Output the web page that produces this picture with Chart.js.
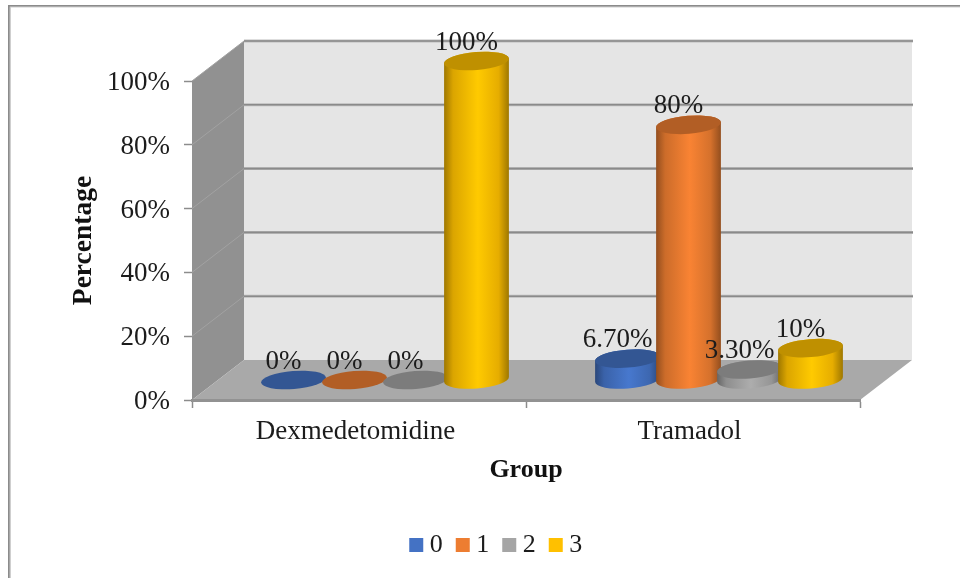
<!DOCTYPE html>
<html>
<head>
<meta charset="utf-8">
<style>
  html, body { margin: 0; padding: 0; background: #ffffff; }
  #wrap { position: relative; width: 960px; height: 578px; }
</style>
<script src="https://cdn.jsdelivr.net/npm/chart.js@4/dist/chart.umd.min.js"></script>
</head>
<body>
<div id="wrap"><canvas id="chart" width="960" height="578"></canvas></div>
<script>
// Score share per group, in percent
const categories = ['Dexmedetomidine', 'Tramadol'];
const score0 = [0, 6.7];
const score1 = [0, 80];
const score2 = [0, 3.3];
const score3 = [100, 10];
const seriesNames = ['0', '1', '2', '3'];
const seriesColors = ['#4472C4', '#ED7D31', '#A5A5A5', '#FFC000'];
const yTicks = [0, 20, 40, 60, 80, 100];

const FONT = '"Liberation Serif", "Times New Roman", serif';
const TEXT = '#1c1c1c';
const DEPTH_X = 52;   // shift from the front plane to the back wall
const DEPTH_Y = -40;
const LEG_SHIFT_X = 69;

function shade(hex, k) {
  const n = parseInt(hex.slice(1), 16);
  const c = [n >> 16, (n >> 8) & 255, n & 255].map(v => Math.round(Math.min(255, v * k)));
  return `rgb(${c[0]},${c[1]},${c[2]})`;
}

// Bar element drawn as a cylinder standing halfway into the chart's depth
class CylinderElement extends Chart.BarElement {
  static id = 'cylinder';
  static defaults = { ...Chart.BarElement.defaults };
  draw(ctx) {
    const color = this.options.backgroundColor;
    const cx = this.x + DEPTH_X / 2;
    const yTop = this.y + DEPTH_Y / 2;
    const yBase = this.base + DEPTH_Y / 2;
    const rx = this.width / 2 + 2;
    const ry = 9;
    const tilt = -0.08;
    ctx.save();
    if (yBase - yTop > 0.5) {
      const g = ctx.createLinearGradient(cx - rx, 0, cx + rx, 0);
      g.addColorStop(0, shade(color, 0.62));
      g.addColorStop(0.14, shade(color, 0.86));
      g.addColorStop(0.52, shade(color, 1.05));
      g.addColorStop(0.84, shade(color, 0.9));
      g.addColorStop(1, shade(color, 0.62));
      ctx.beginPath();
      ctx.ellipse(cx, yBase, rx, ry, tilt, 0, Math.PI, false);
      ctx.ellipse(cx, yTop, rx, ry, tilt, Math.PI, 0, false);
      ctx.closePath();
      ctx.fillStyle = g;
      ctx.fill();
    }
    ctx.beginPath();
    ctx.ellipse(cx, yTop, rx, ry, tilt, 0, Math.PI * 2);
    ctx.fillStyle = shade(color, 0.75);
    ctx.fill();
    ctx.restore();
  }
}

class CylinderController extends Chart.BarController {
  static id = 'cylinder';
  static defaults = { ...Chart.BarController.defaults, dataElementType: 'cylinder' };
  static overrides = Chart.BarController.overrides;
}

Chart.register(CylinderElement, CylinderController);

// Walls, floor and outer frame behind everything else
const room = {
  id: 'room',
  beforeDraw(chart) {
    const { ctx, scales: { x, y } } = chart;
    const l = x.left, r = x.right, b = y.getPixelForValue(0), t = y.getPixelForValue(100);
    ctx.save();

    // Frame: only the top and left edges are visible
    ctx.fillStyle = '#cfcfcf';
    ctx.fillRect(8, 6, 952, 1.5);
    ctx.fillRect(9.5, 6, 1.5, 572);
    ctx.fillStyle = '#8b8b8b';
    ctx.fillRect(8, 5, 952, 1.5);
    ctx.fillRect(8, 5, 1.7, 573);

    const poly = (pts, fill) => {
      ctx.beginPath();
      pts.forEach((p, i) => (i ? ctx.lineTo(p[0], p[1]) : ctx.moveTo(p[0], p[1])));
      ctx.closePath();
      ctx.fillStyle = fill;
      ctx.fill();
    };

    // Back wall
    poly([[l + DEPTH_X, t + DEPTH_Y], [r + DEPTH_X, t + DEPTH_Y], [r + DEPTH_X, b + DEPTH_Y], [l + DEPTH_X, b + DEPTH_Y]], '#e5e5e5');
    // Side wall
    poly([[l, t], [l + DEPTH_X, t + DEPTH_Y], [l + DEPTH_X, b + DEPTH_Y], [l, b]], '#919191');
    // Floor
    poly([[l, b], [l + DEPTH_X, b + DEPTH_Y], [r + DEPTH_X, b + DEPTH_Y], [r, b]], '#a9a9a9');

    // Grid lines run along the side wall and then across the back wall
    yTicks.filter(v => v > 0).forEach(v => {
      const py = y.getPixelForValue(v);
      ctx.beginPath();
      ctx.moveTo(l, py);
      ctx.lineTo(l + DEPTH_X, py + DEPTH_Y);
      ctx.strokeStyle = '#a2a2a2';
      ctx.lineWidth = 1;
      ctx.stroke();
      ctx.beginPath();
      ctx.moveTo(l + DEPTH_X, py + DEPTH_Y);
      ctx.lineTo(r + DEPTH_X + 1, py + DEPTH_Y);
      ctx.strokeStyle = '#bdbdbd';
      ctx.lineWidth = 3;
      ctx.stroke();
      ctx.strokeStyle = '#8a8a8a';
      ctx.lineWidth = 1.6;
      ctx.stroke();
    });
    ctx.restore();
  },
  // Cylinders go left to right so that later ones overlap earlier ones
  beforeDatasetsDraw(chart) {
    chart.data.datasets.forEach((d, i) => chart.getDatasetMeta(i).controller.draw());
    return false;
  },
  afterLayout(chart) {
    const lg = chart.legend;
    lg.left += LEG_SHIFT_X;
    lg.right += LEG_SHIFT_X;
    lg.top -= 10;
  }
};

// Value labels above each cylinder
const valueLabels = {
  id: 'valueLabels',
  afterDraw(chart) {
    const { ctx } = chart;
    ctx.save();
    ctx.font = `27px ${FONT}`;
    ctx.fillStyle = TEXT;
    ctx.textAlign = 'center';
    ctx.textBaseline = 'middle';
    chart.data.datasets.forEach((d, i) => {
      chart.getDatasetMeta(i).data.forEach((el, j) => {
        const v = d.data[j];
        const text = Number.isInteger(v) ? `${v}%` : `${v.toFixed(2)}%`;
        ctx.fillText(text, el.x + 16, el.y - 38.5);
      });
    });
    ctx.restore();
  }
};

const seriesValues = [score0, score1, score2, score3];

new Chart(document.getElementById('chart'), {
  type: 'cylinder',
  data: {
    labels: categories,
    datasets: seriesNames.map((name, i) => ({
      label: name,
      data: seriesValues[i],
      backgroundColor: seriesColors[i],
      borderWidth: 0,
      categoryPercentage: 0.7305,
      barPercentage: 1
    }))
  },
  plugins: [room, valueLabels],
  options: {
    responsive: false,
    animation: false,
    layout: { padding: { left: 0, top: 81, right: 100, bottom: 0 } },
    plugins: {
      tooltip: { enabled: false },
      title: { display: false },
      legend: {
        display: true,
        position: 'bottom',
        labels: {
          usePointStyle: true,
          pointStyle: 'rect',
          boxWidth: 1,
          boxHeight: 14,
          padding: 19.5,
          color: TEXT,
          font: { family: FONT, size: 26 }
        }
      }
    },
    scales: {
      x: {
        type: 'category',
        offset: true,
        afterFit(s) { s.height = 578 - 400 - s.chart.legend.height; },
        grid: { offset: true, drawOnChartArea: false, drawTicks: true, tickLength: 8, tickColor: '#8c8c8c', tickWidth: 1.5 },
        border: { display: true, color: '#929292', width: 3 },
        ticks: { color: TEXT, padding: 8, labelOffset: -3.5, maxRotation: 0, font: { family: FONT, size: 27 } },
        title: {
          display: true,
          text: 'Group',
          color: '#111111',
          padding: { top: 0, bottom: 37 },
          font: { family: FONT, size: 26, weight: 'bold' }
        }
      },
      y: {
        type: 'linear',
        min: 0,
        max: 100,
        afterFit(s) { s.width = 192; },
        afterBuildTicks(s) { s.ticks = yTicks.map(value => ({ value })); },
        grid: { drawOnChartArea: false, drawTicks: true, tickLength: 8, tickColor: '#8c8c8c', tickWidth: 1.5 },
        border: { display: false },
        ticks: {
          color: TEXT,
          padding: 14,
          labelOffset: 2,
          callback: v => `${v}%`,
          font: { family: FONT, size: 27 }
        },
        title: {
          display: true,
          text: 'Percentage',
          color: '#111111',
          padding: { top: 67, bottom: 0 },
          font: { family: FONT, size: 27.5, weight: 'bold' }
        }
      }
    }
  }
});
</script>
</body>
</html>
